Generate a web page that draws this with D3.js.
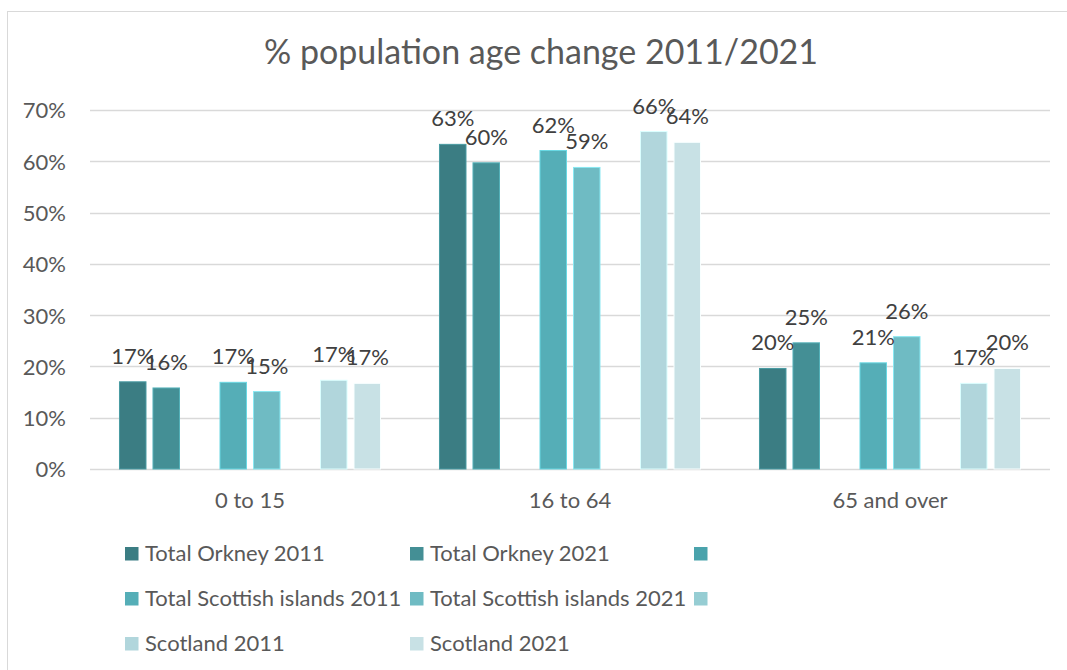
<!DOCTYPE html>
<html>
<head>
<meta charset="utf-8">
<script src="https://cdn.jsdelivr.net/npm/d3@7"></script>
<style>
  html, body { margin: 0; padding: 0; background: #fff; }
  svg { display: block; font-family: Lato, "Open Sans", sans-serif; }
</style>
</head>
<body>
<svg id="chart" width="1067" height="670"></svg>
<script>
// Age groups along the x axis
const categories = ["0 to 15", "16 to 64", "65 and over"];

// Series labels (two unnamed placeholder series sit between the region pairs)
const seriesNames = [
  "Total Orkney 2011", "Total Orkney 2021", "",
  "Total Scottish islands 2011", "Total Scottish islands 2021", "",
  "Scotland 2011", "Scotland 2021"
];

// Share of population per age group
const orkney2011   = [0.170, 0.633, 0.196];
const orkney2021   = [0.158, 0.597, 0.246];
const placeholderA = [null, null, null];
const islands2011  = [0.169, 0.621, 0.207];
const islands2021  = [0.151, 0.588, 0.258];
const placeholderB = [null, null, null];
const scotland2011 = [0.173, 0.658, 0.167];
const scotland2021 = [0.167, 0.637, 0.196];

const seriesValues = [orkney2011, orkney2021, placeholderA, islands2011,
                      islands2021, placeholderB, scotland2011, scotland2021];

const seriesColors = ["#3b7d83", "#448f95", "#4aa3ac", "#55aeb7",
                      "#6fbbc3", "#96cdd3", "#b1d6dc", "#c8e1e5"];

const yTicks = [0, 0.1, 0.2, 0.3, 0.4, 0.5, 0.6, 0.7];

const chartTitle = "% population age change 2011/2021";

const svg = d3.select("#chart");

// Outer chart frame
svg.append("rect")
  .attr("x", 7.5).attr("y", 11.5)
  .attr("width", 1080).attr("height", 680)
  .attr("fill", "none").attr("stroke", "#d9d9d9").attr("stroke-width", 1);

// Title
svg.append("text")
  .attr("x", 541).attr("y", 64)
  .attr("text-anchor", "middle")
  .attr("fill", "#595959")
  .style("font-size", "34px")
  .text(chartTitle);

const plot = { left: 90, right: 1050, top: 110, bottom: 469 };

const x0 = d3.scaleBand()
  .domain(categories)
  .range([plot.left, plot.right])
  .padding(0);

const x1 = d3.scaleBand()
  .domain(d3.range(seriesNames.length))
  .range([0, x0.bandwidth()])
  .paddingInner(0.209)
  .paddingOuter(0.88);

const y = d3.scaleLinear()
  .domain([0, 0.7])
  .range([plot.bottom, plot.top]);

// Horizontal gridlines
svg.append("g")
  .selectAll("line")
  .data(yTicks)
  .join("line")
  .attr("x1", plot.left).attr("x2", plot.right)
  .attr("y1", d => Math.round(y(d)) + 0.5)
  .attr("y2", d => Math.round(y(d)) + 0.5)
  .attr("stroke", "#d9d9d9").attr("stroke-width", 1.3);

// Y axis labels
const yAxis = d3.axisLeft(y)
  .tickValues(yTicks)
  .tickFormat(d3.format(".0%"))
  .tickSize(0)
  .tickPadding(0);

const yg = svg.append("g")
  .attr("transform", `translate(66,0)`)
  .call(yAxis);
yg.select(".domain").remove();
yg.selectAll("text")
  .attr("fill", "#595959")
  .attr("dy", "0.36em")
  .style("font-family", "Lato, 'Open Sans', sans-serif")
  .style("font-size", "22px");

// Category axis labels
const xAxis = d3.axisBottom(x0).tickSize(0).tickPadding(0);
const xg = svg.append("g")
  .attr("transform", `translate(0,${plot.bottom})`)
  .call(xAxis);
xg.select(".domain").remove();
xg.selectAll("text")
  .attr("y", 39)
  .attr("dy", 0)
  .attr("fill", "#595959")
  .style("font-family", "Lato, 'Open Sans', sans-serif")
  .style("font-size", "22px");

// Bars
const flat = [];
categories.forEach((c, ci) => {
  seriesValues.forEach((vals, si) => {
    if (vals[ci] != null) flat.push({ cat: c, s: si, v: vals[ci] });
  });
});

const barGroup = svg.append("g");
barGroup.selectAll("rect")
  .data(flat)
  .join("rect")
  .attr("x", d => x0(d.cat) + x1(d.s))
  .attr("width", x1.bandwidth())
  .attr("y", d => y(d.v))
  .attr("height", d => y(0) - y(d.v))
  .attr("fill", d => seriesColors[d.s])
  .attr("stroke", d => d3.color(seriesColors[d.s]).brighter(0.6))
  .attr("stroke-width", 1);

// Value labels above bars
const pct = d3.format(".0%");
svg.append("g")
  .selectAll("text")
  .data(flat)
  .join("text")
  .attr("x", d => x0(d.cat) + x1(d.s) + x1.bandwidth() / 2)
  .attr("y", d => y(d.v) - 18)
  .attr("text-anchor", "middle")
  .attr("fill", "#404040")
  .style("font-size", "22px")
  .text(d => pct(d.v));

// Legend: three columns, row-major in series order
const legend = svg.append("g");
const colX = [125, 410, 694];
const rowY = [547, 592, 637];
seriesNames.forEach((name, i) => {
  const gx = colX[i % 3], gy = rowY[Math.floor(i / 3)];
  const item = legend.append("g").attr("transform", `translate(${gx},${gy})`);
  item.append("rect")
    .attr("width", 13.5).attr("height", 13.5)
    .attr("fill", seriesColors[i]);
  item.append("text")
    .attr("x", 20).attr("y", 14)
    .attr("fill", "#595959")
    .style("font-size", "22px")
    .text(name);
});
</script>
</body>
</html>
